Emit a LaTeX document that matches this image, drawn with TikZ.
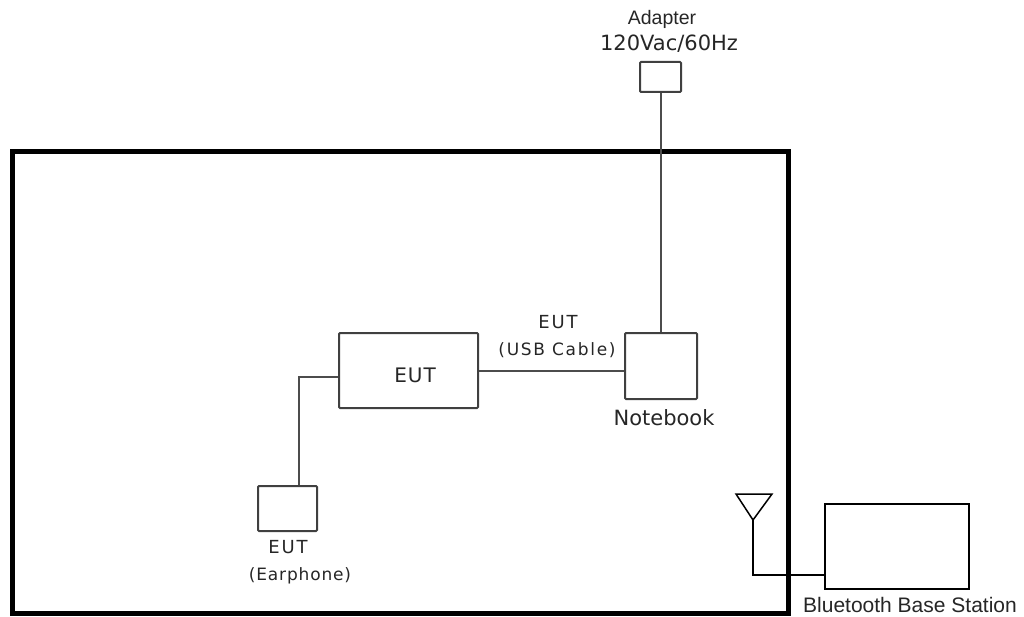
\documentclass[tikz,border=0pt]{standalone}
\usepackage{fontspec}
\setmainfont{DejaVu Sans}
\newfontfamily\arialf{Liberation Sans}
\newfontfamily\spacedf[LetterSpace=10]{DejaVu Sans}
\newfontfamily\lspacedf[LetterSpace=5]{DejaVu Sans}
\begin{document}
\begin{tikzpicture}[x=1pt,y=-1pt,
  box/.style={draw=black!75, line width=2pt, rounded corners=1pt, inner sep=0pt, fill=white},
  wire/.style={draw=black!70, line width=2pt},
  thinw/.style={draw=black, line width=1.5pt},
  lbl/.style={inner sep=0pt, text=black!85}]
\useasboundingbox (0,0) rectangle (1024,617);
% test room
\draw[line width=5pt] (12,152) rectangle (788,613);
% boxes
\node[box, minimum width=41pt, minimum height=30pt] (adapter) at (660.5,77) {};
\node[box, minimum width=72pt, minimum height=66pt] (notebook) at (661,366) {};
\node[box, minimum width=139pt, minimum height=75pt] (eut) at (408.5,370.5) {};
\node[box, minimum width=59pt, minimum height=45pt] (earphone) at (287.5,508.5) {};
\node[draw=black, line width=1.5pt, inner sep=0pt, minimum width=144pt, minimum height=85pt] (bs) at (897,546.5) {};
% antenna
\coordinate (ant) at (753,520);
\draw[thinw, line join=miter] (736,494) -- (772,494) -- (ant) -- cycle;
% connectors
\draw[wire] (adapter.south) -- (adapter.south |- notebook.north);
\draw[wire] ([yshift=-0.5pt]eut.east) -- ([yshift=-0.5pt]eut.east -| notebook.west);
\draw[wire] ([yshift=-6.5pt]eut.west) -| ([xshift=11.5pt]earphone.north);
\draw[thinw] (ant) |- ([yshift=-28.5pt]bs.west);
% labels
\node[lbl, font=\arialf\fontsize{19.5}{22}\selectfont] (adlbl) at (662,19) {Adapter};
\node[lbl, font=\fontsize{21}{24}\selectfont] (advolt) at (669,44) {120Vac/60Hz};
\node[lbl, font=\lspacedf\fontsize{20}{23}\selectfont] (eutlbl) at (415,375) {EUT};
\node[lbl, font=\spacedf\fontsize{18}{21}\selectfont] (usb1) at (558,322) {EUT};
\node[lbl, font=\spacedf\fontsize{17}{20}\selectfont] (usb2) at (557,350) {(USB Cable)};
\node[lbl, font=\fontsize{21}{24}\selectfont] (nblbl) at (664,418) {Notebook};
\node[lbl, font=\spacedf\fontsize{18}{21}\selectfont] (ep1) at (288,547) {EUT};
\node[lbl, font=\lspacedf\fontsize{17}{20}\selectfont] (ep2) at (300,576) {(Earphone)};
\node[lbl, font=\arialf\fontsize{21}{24}\selectfont] (bslbl) at (910,605) {Bluetooth Base Station};
\end{tikzpicture}
\end{document}
